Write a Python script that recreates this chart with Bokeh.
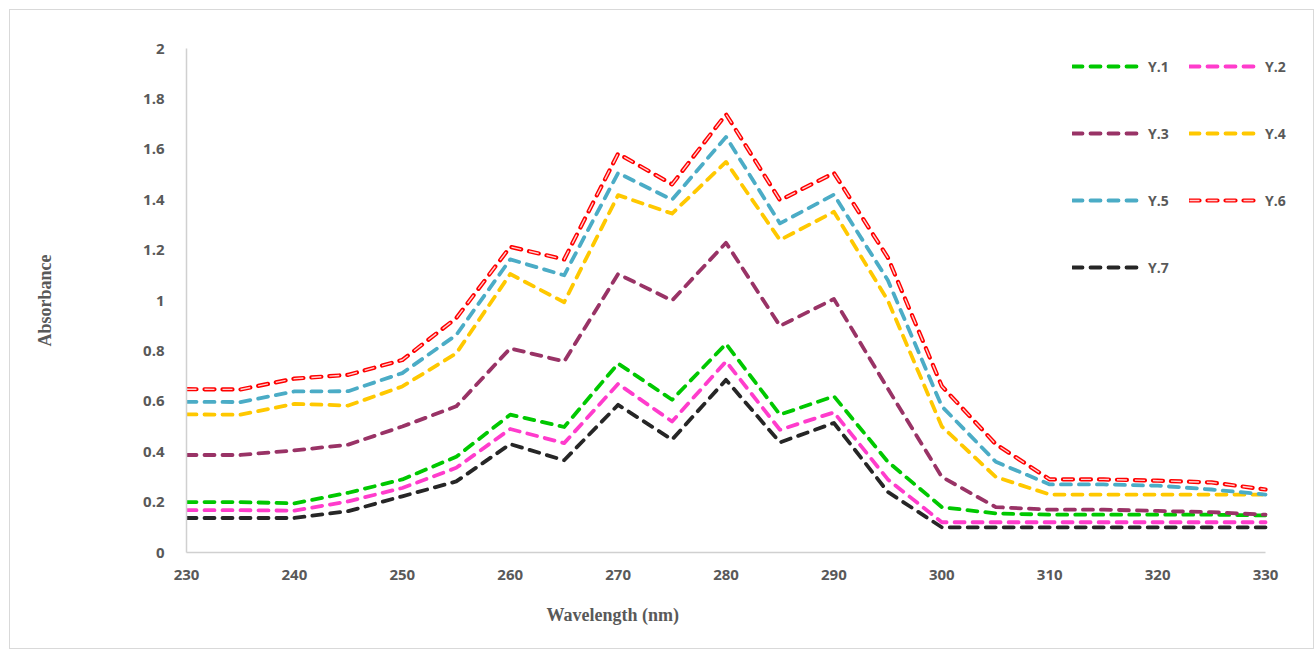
from bokeh.plotting import figure
from bokeh.models import Legend, LegendItem, FixedTicker, Title
from bokeh.embed import file_html
from bokeh.resources import INLINE

# ---- data ----
wavelength = [230, 235, 240, 245, 250, 255, 260, 265, 270, 275, 280,
              285, 290, 295, 300, 305, 310, 315, 320, 325, 330]
y1 = [0.200, 0.200, 0.195, 0.237, 0.290, 0.380, 0.547, 0.498, 0.750, 0.606, 0.828,
      0.547, 0.620, 0.360, 0.180, 0.155, 0.150, 0.150, 0.150, 0.150, 0.147]
y2 = [0.168, 0.168, 0.166, 0.203, 0.256, 0.336, 0.490, 0.434, 0.669, 0.520, 0.758,
      0.487, 0.556, 0.290, 0.120, 0.120, 0.120, 0.120, 0.120, 0.120, 0.120]
y3 = [0.387, 0.387, 0.405, 0.428, 0.500, 0.580, 0.810, 0.758, 1.105, 1.000, 1.229,
      0.899, 1.006, 0.650, 0.300, 0.180, 0.170, 0.170, 0.165, 0.160, 0.150]
y4 = [0.548, 0.547, 0.590, 0.583, 0.659, 0.790, 1.105, 0.993, 1.418, 1.345, 1.550,
      1.240, 1.352, 1.000, 0.500, 0.300, 0.230, 0.230, 0.230, 0.230, 0.230]
y5 = [0.598, 0.597, 0.639, 0.640, 0.712, 0.863, 1.163, 1.100, 1.506, 1.400, 1.649,
      1.306, 1.420, 1.080, 0.580, 0.360, 0.270, 0.270, 0.265, 0.250, 0.230]
y6 = [0.648, 0.647, 0.690, 0.705, 0.764, 0.930, 1.213, 1.163, 1.583, 1.461, 1.739,
      1.398, 1.506, 1.170, 0.660, 0.430, 0.290, 0.290, 0.285, 0.278, 0.250]
y7 = [0.137, 0.137, 0.137, 0.164, 0.223, 0.282, 0.430, 0.366, 0.586, 0.448, 0.685,
      0.437, 0.514, 0.240, 0.100, 0.100, 0.100, 0.100, 0.100, 0.100, 0.100]

series_names = ["Y.1", "Y.2", "Y.3", "Y.4", "Y.5", "Y.6", "Y.7"]
series_values = [y1, y2, y3, y4, y5, y6, y7]
series_colors = ["#00c800", "#ff3ccc", "#993366", "#ffc800", "#4bacc6", "#ff0000", "#262626"]

x_ticks = [230, 240, 250, 260, 270, 280, 290, 300, 310, 320, 330]
y_ticks = [0, 0.2, 0.4, 0.6, 0.8, 1.0, 1.2, 1.4, 1.6, 1.8, 2.0]
y_tick_labels = ["0", "0.2", "0.4", "0.6", "0.8", "1", "1.2", "1.4", "1.6", "1.8", "2"]

x_title = "Wavelength (nm)"
y_title = "Absorbance"

# ---- figure ----
# x range extended a little past 330 so the legend (which overhangs the
# last tick in the reference) is not clipped; the axis line stops at 330.
p = figure(width=1303, height=638, output_backend="svg", toolbar_location=None,
           x_range=(230, 332.5), y_range=(0, 2),
           min_border_left=176, min_border_right=21, min_border_top=38, min_border_bottom=95)
p.styles = {"margin-left": "10px", "margin-top": "10px", "outline": "1px solid #d9d9d9"}
p.outline_line_color = None
p.xgrid.grid_line_color = None
p.ygrid.grid_line_color = None
p.background_fill_color = "white"
p.border_fill_color = "white"

tick_font = "Open Sans"
for ax in (p.xaxis[0], p.yaxis[0]):
    ax.axis_line_color = "#d0d0d0"
    ax.axis_line_width = 1.5
    ax.major_tick_line_color = None
    ax.minor_tick_line_color = None
    ax.major_label_text_font = tick_font
    ax.major_label_text_font_style = "bold"
    ax.major_label_text_font_size = "15px"
    ax.major_label_text_color = "#595959"

p.xaxis[0].ticker = FixedTicker(ticks=x_ticks)
p.xaxis[0].bounds = (x_ticks[0], x_ticks[-1])
p.yaxis[0].ticker = FixedTicker(ticks=y_ticks)
p.yaxis[0].major_label_overrides = {float(t): s for t, s in zip(y_ticks, y_tick_labels)}
p.xaxis[0].major_label_standoff = 11
p.yaxis[0].major_label_standoff = 16

# y axis title
p.yaxis[0].axis_label = y_title
p.yaxis[0].axis_label_standoff = 85
p.yaxis[0].axis_label_text_font = "Liberation Serif"
p.yaxis[0].axis_label_text_font_style = "bold"
p.yaxis[0].axis_label_text_font_size = "18px"
p.yaxis[0].axis_label_text_color = "#595959"

# x axis title (offset to the left as in the reference)
xt = Title(text=x_title, align="left", offset=360, vertical_align="top", standoff=44,
           text_font="Liberation Serif", text_font_style="bold",
           text_font_size="18px", text_color="#595959")
p.add_layout(xt, "below")

# ---- lines ----
renderers = {}
for name, vals, col in zip(series_names, series_values, series_colors):
    if name == "Y.6":
        r_out = p.line(wavelength, vals, line_color=col, line_width=4.2,
                       line_dash="10 8", line_cap="round", line_join="round")
        r_in = p.line(wavelength, vals, line_color="#ffd0d0", line_width=1.4,
                      line_dash="10 8", line_cap="butt", line_join="round")
        renderers[name] = [r_out, r_in]
    else:
        r = p.line(wavelength, vals, line_color=col, line_width=3.8,
                   line_dash="10 8", line_cap="round", line_join="round")
        renderers[name] = [r]

# ---- legend: 4 rows x 2 columns ----
rows = [["Y.1", "Y.2"], ["Y.3", "Y.4"], ["Y.5", "Y.6"], ["Y.7"]]
for k, row in enumerate(rows):
    items = [LegendItem(label=n, renderers=renderers[n]) for n in row]
    lg = Legend(items=items, orientation="horizontal", location=(886, 476 - 67 * k),
                glyph_width=70, glyph_height=20, label_height=20, label_width=25,
                label_standoff=6, spacing=16, padding=0, margin=0,
                border_line_color=None, background_fill_alpha=0,
                label_text_font=tick_font, label_text_font_style="bold",
                label_text_font_size="14px", label_text_color="#595959")
    p.add_layout(lg, "center")

open("out.html", "w").write(file_html(p, INLINE))
